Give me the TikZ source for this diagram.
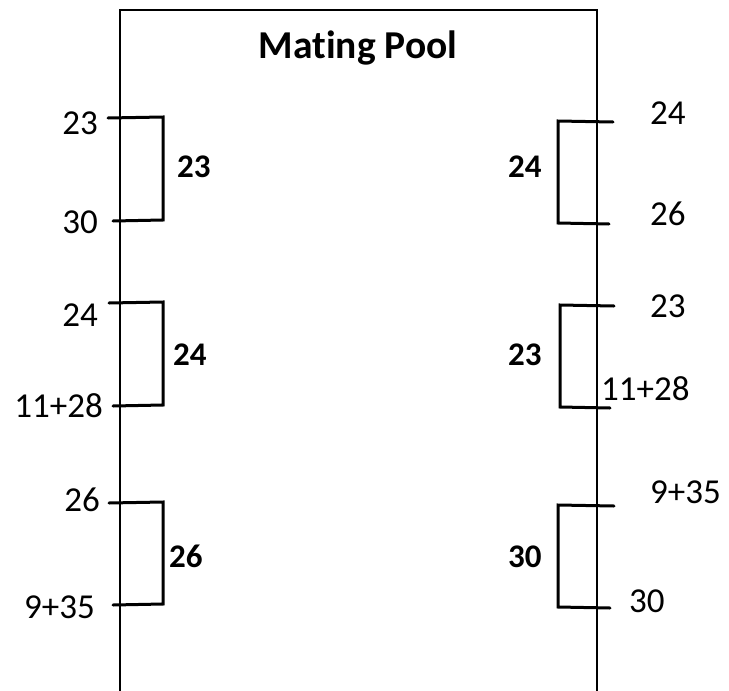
\documentclass[tikz,border=0pt]{standalone}
\usepackage{fontspec}
\setmainfont{Carlito}[Ligatures=NoCommon]
\begin{document}
\begin{tikzpicture}[x=1pt,y=-1pt,
  frame/.style={line width=1.8pt},
  pair/.style={line width=3pt,line cap=round},
  val/.style={font=\fontsize{35}{40}\selectfont,inner sep=0pt},
  pick/.style={font=\fontsize{33}{38}\selectfont\bfseries,inner sep=0pt,anchor=base west},
  title/.style={font=\fontsize{39.5}{44}\selectfont\bfseries,inner sep=0pt,anchor=base}]
\useasboundingbox (0,0) rectangle (729,691);
% pool outline (open at the bottom)
\draw[frame] (120,691) -- (120,10) -- (597,10) -- (597,691);
\node[title] (head) at (358,58) {Mating Pool};

% left column: parent pairs
\draw[pair] (108,118) -- (163,117) -- (163,220) -- (113,221);
\draw[pair] (109,303) -- (163,302) -- (163,405) -- (113,406);
\draw[pair] (109,503) -- (163,502) -- (163,604) -- (113,605);
\node[val,anchor=base east] (l1a) at (98,134) {23};
\node[val,anchor=base east] (l1b) at (98,233) {30};
\node[val,anchor=base east] (l2a) at (98,326) {24};
\node[val,anchor=base east] (l2b) at (103,417) {11+28};
\node[val,anchor=base east] (l3a) at (100,511) {26};
\node[val,anchor=base east] (l3b) at (95,618) {9+35};
\node[pick] (w1) at (177,177) {23};
\node[pick] (w2) at (173,365) {24};
\node[pick] (w3) at (169,567) {26};

% right column: parent pairs
\draw[pair] (613,122) -- (558,121) -- (558,223) -- (609,224);
\draw[pair] (614,306) -- (560,305) -- (560,407) -- (610,408);
\draw[pair] (614,506) -- (558,505) -- (558,607) -- (610,608);
\node[val,anchor=base west] (r1a) at (650,124) {24};
\node[val,anchor=base west] (r1b) at (650,225) {26};
\node[val,anchor=base west] (r2a) at (650,317) {23};
\node[val,anchor=base west] (r2b) at (601,400) {11+28};
\node[val,anchor=base west] (r3a) at (650,503) {9+35};
\node[val,anchor=base west] (r3b) at (629,612) {30};
\node[pick] (v1) at (508,177) {24};
\node[pick] (v2) at (508,365) {23};
\node[pick] (v3) at (508,567) {30};
\end{tikzpicture}
\end{document}
